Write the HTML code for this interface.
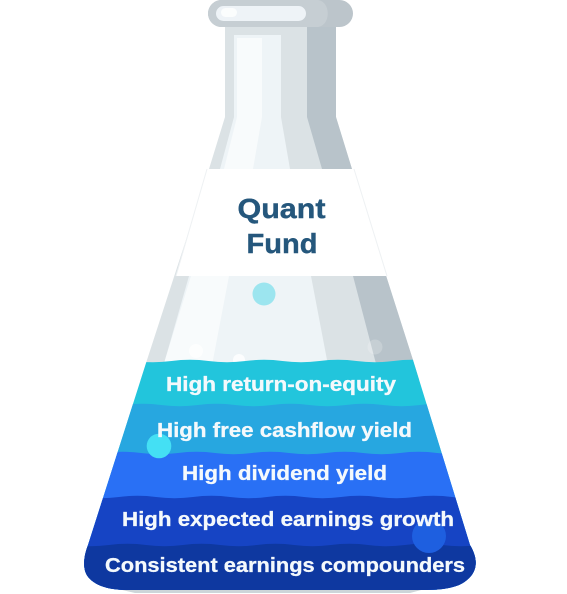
<!DOCTYPE html>
<html lang="en">
<head>
<meta charset="utf-8">
<title>Quant Fund flask</title>
<style>
html,body{margin:0;padding:0;background:#fff;}
svg{display:block;}
text{font-family:"Liberation Sans",sans-serif;font-weight:bold;}
</style>
</head>
<body>
<svg width="567" height="594" viewBox="0 0 567 594" xmlns="http://www.w3.org/2000/svg">
  <defs>
    <clipPath id="body-clip">
      <path d="M225,20 L225,117 L209,169 L147,360 L88,545 C83,558 82,572 90,579 C98,587 112,590 127,590 L423,590 C442,590 458,588 467,580 C477,572 479,560 470,545 L413,360 L352,169 L336,117 L336,20 Z"/>
    </clipPath>
  </defs>

  <path d="M118,589 L425,589 L410,593 L135,593 Z" fill="#cdd5d9"/>

  <g clip-path="url(#body-clip)">
    <rect x="60" y="20" width="440" height="360" fill="#dbe2e5"/>
    <polygon points="307,20 340,20 420,380 381,380 375,360 353,276 322,169 307,117" fill="#b8c3ca"/>
    <polygon points="234,35 281,35 281,117 290,169 311,276 327,360 330,380 160,380 165,360 189,276 220,169 234,117" fill="#eef4f7"/>
    <polygon points="237,38 262,38 262,117 253,169 229,276 213,360 210,380 160,380 165,360 191,276 224,169 237,117" fill="#f8fbfc"/>
    <circle cx="196" cy="351" r="7" fill="#ffffff" fill-opacity="0.7"/>
    <circle cx="239" cy="360" r="6" fill="#ffffff" fill-opacity="0.8"/>
    <circle cx="375" cy="347" r="7.5" fill="#ffffff" fill-opacity="0.2"/>
  </g>

  <g>
    <rect x="208" y="0" width="145" height="27" rx="13.5" fill="#bcc5cb"/>
    <path d="M221.500,0 L318,0 C331,2 331,25 318,27 L221.500,27 A13.500,13.500 0 0 1 221.500,0 Z" fill="#c6ced3"/>
    <rect x="216" y="6" width="90" height="15" rx="7.500" fill="#eef3f7"/>
    <rect x="221" y="8" width="16" height="9" rx="4.500" fill="#fbfdfd"/>
  </g>

  <polygon points="207,169 354,169 387,276 176,276" fill="#ffffff"/>
  <path d="M207,169 L176,276 M354,169 L387,276" fill="none" stroke="#eef1f3" stroke-width="1"/>
  <text x="281.500" y="218" text-anchor="middle" font-size="28" textLength="88" lengthAdjust="spacingAndGlyphs" fill="#25577c" stroke="#25577c" stroke-width="0.4">Quant</text>
  <text x="282" y="253" text-anchor="middle" font-size="28" textLength="71" lengthAdjust="spacingAndGlyphs" fill="#25577c" stroke="#25577c" stroke-width="0.4">Fund</text>

  <circle cx="264" cy="294" r="11.500" fill="#9ce5ef"/>

  <g clip-path="url(#body-clip)">
    <path fill="#22c5dc" d="M23.500,361 q18.500,-2.400 37,0 t37,0 t37,0 t37,0 t37,0 t37,0 t37,0 t37,0 t37,0 t37,0 t37,0 t37,0 t37,0 t37,0 V600 H23.500 Z"/>
    <path fill="#27a7e0" d="M50,405 q18.500,-2.400 37,0 t37,0 t37,0 t37,0 t37,0 t37,0 t37,0 t37,0 t37,0 t37,0 t37,0 t37,0 t37,0 V600 H50 Z"/>
    <path fill="#2970f5" d="M30,453 q18.500,-2.400 37,0 t37,0 t37,0 t37,0 t37,0 t37,0 t37,0 t37,0 t37,0 t37,0 t37,0 t37,0 t37,0 V600 H30 Z"/>
    <path fill="#1644c4" d="M45,497 q18.500,-2.400 37,0 t37,0 t37,0 t37,0 t37,0 t37,0 t37,0 t37,0 t37,0 t37,0 t37,0 t37,0 t37,0 V600 H45 Z"/>
    <path fill="#0e38a0" d="M35,545 q18.500,-2.400 37,0 t37,0 t37,0 t37,0 t37,0 t37,0 t37,0 t37,0 t37,0 t37,0 t37,0 t37,0 t37,0 V600 H35 Z"/>
    <circle cx="159" cy="446" r="12.300" fill="#44e0f4"/>
    <circle cx="429" cy="536" r="17" fill="#1e5fe0"/>
  </g>

  <g fill="#f4f9fc" stroke="#f4f9fc" stroke-width="0.3" font-size="20">
    <text x="166" y="391" textLength="230" lengthAdjust="spacingAndGlyphs">High return-on-equity</text>
    <text x="157" y="437" textLength="255" lengthAdjust="spacingAndGlyphs">High free cashflow yield</text>
    <text x="182" y="480" textLength="205" lengthAdjust="spacingAndGlyphs">High dividend yield</text>
    <text x="122" y="526" textLength="332" lengthAdjust="spacingAndGlyphs">High expected earnings growth</text>
    <text x="105" y="572" textLength="360" lengthAdjust="spacingAndGlyphs">Consistent earnings compounders</text>
  </g>
</svg>
</body>
</html>
